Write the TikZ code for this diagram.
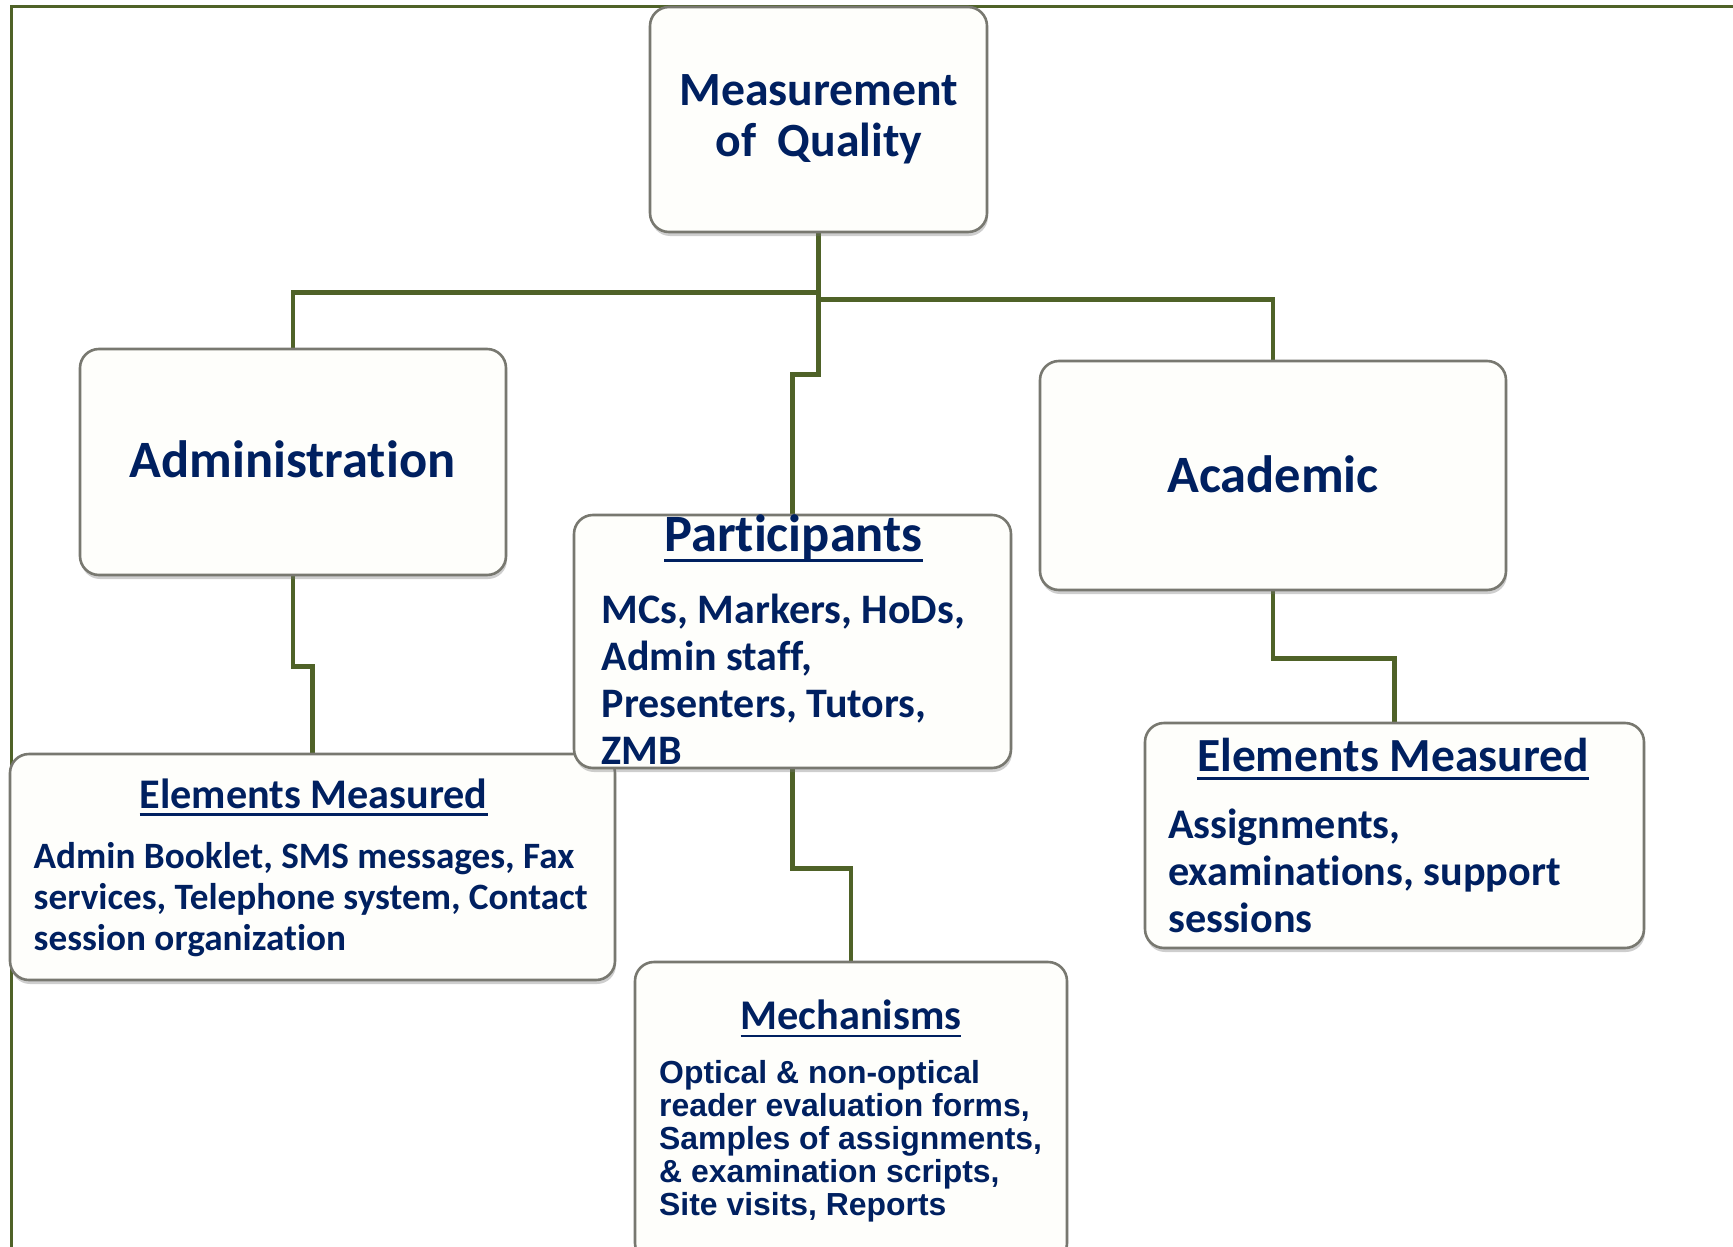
\documentclass[tikz,border=0pt]{standalone}
\usepackage{fontspec}
\setmainfont{Carlito}[Ligatures=NoCommon]
\newfontfamily\arialfont{Liberation Sans}[Ligatures=NoCommon]
\usetikzlibrary{shadows,backgrounds}

\definecolor{oliveline}{RGB}{79,98,40}
\definecolor{navytext}{RGB}{0,32,96}
\definecolor{boxline}{RGB}{120,120,112}
\definecolor{boxfill}{RGB}{254,254,251}

% one text line, centred on the anchor / flush left
\newcommand{\ctrln}[1]{\hbox to 0pt{\hss#1\hss}}
\newcommand{\leftln}[1]{\hbox{#1}}
\newcommand{\fsz}[2]{\fontsize{#1}{#2}\selectfont}
% underlined heading
\newcommand{\ulin}[1]{\setbox0=\hbox{#1}\rlap{\vrule height -0.13em depth 0.19em width \wd0}\box0}

\tikzset{
  card/.style={draw=boxline, line width=2.6pt, fill=boxfill,
    rounded corners=19pt, inner sep=0pt,
    drop shadow={shadow xshift=1pt, shadow yshift=-4pt, opacity=0.35, fill=black!55}},
  link/.style={draw=oliveline, line width=4.8pt},
  txt/.style={text=navytext, inner sep=0pt},
}

\begin{document}
\begin{tikzpicture}[x=1pt, y=-1pt]
\useasboundingbox (0,0) rectangle (1733,1247);
\clip (0,0) rectangle (1733,1247);

% boxes
\node[card, minimum width=337pt, minimum height=225pt] (moq)  at (818.5,119.5) {};
\node[card, minimum width=426pt, minimum height=226pt] (adm)  at (293,462) {};
\node[card, minimum width=466pt, minimum height=229pt] (acad) at (1273,475.5) {};
\node[card, minimum width=605pt, minimum height=226pt] (lem)  at (312.5,867) {};
\node[card, minimum width=437pt, minimum height=253pt] (part) at (792.5,641.5) {};
\node[card, minimum width=499pt, minimum height=225pt] (rem)  at (1394.5,835.5) {};
\node[card, minimum width=432pt, minimum height=300pt] (mech) at (851,1112) {};

% frame and connectors behind the boxes
\begin{scope}[on background layer]
  \draw[oliveline, line width=2.4pt] (11.5,6.5) rectangle (1790,1300);
  \draw[link] (moq.south) -- ++(0,59) -| (adm.north);
  \draw[link] (moq.south) ++(0,66) -| (acad.north);
  \draw[link] (moq.south) -- ++(0,141.5) -| (part.north);
  \draw[link] (adm.south) -- ++(0,90) -| (lem.north);
  \draw[link] (part.south) -- ++(0,99) -| (mech.north);
  \draw[link] (acad.south) -- ++(0,67) -| (rem.north);
\end{scope}

% texts
\node[txt, anchor=base, font=\bfseries\fsz{47.7}{51}] (moqt) at (819,106)
  {\vtop{\ctrln{Measurement}\ctrln{of\ \ Quality}}};
\node[txt, anchor=base, font=\bfseries\fsz{52.5}{60}] (admt) at (292.5,477) {Administration};
\node[txt, anchor=base, font=\bfseries\fsz{52.5}{60}] (acadt) at (1273,492) {Academic};

\node[txt, anchor=base, font=\bfseries\fsz{52.5}{60}] (partt) at (793.5,551.7) {\ulin{Participants}};
\node[txt, anchor=base west, font=\bfseries\fsz{42}{47}] (partb) at (601.7,623)
  {\vtop{\leftln{MCs, Markers, HoDs,}\leftln{Admin staff,}\leftln{Presenters, Tutors,}\leftln{ZMB}}};

\node[txt, anchor=base, font=\bfseries\fsz{42.2}{48}] (lemt) at (313.6,808) {\ulin{Elements Measured}};
\node[txt, anchor=base west, font=\bfseries\fsz{37.2}{41}] (lemb) at (33.5,868)
  {\vtop{\leftln{Admin Booklet, SMS messages, Fax}\leftln{services, Telephone system, Contact}\leftln{session organization}}};

\node[txt, anchor=base, font=\bfseries\fsz{47.5}{54}] (remt) at (1393,771) {\ulin{Elements Measured}};
\node[txt, anchor=base west, font=\bfseries\fsz{42.2}{47}] (remb) at (1168,838)
  {\vtop{\leftln{Assignments,}\leftln{examinations, support}\leftln{sessions}}};

\node[txt, anchor=base, font=\bfseries\fsz{42.3}{48}] (mecht) at (851,1029) {\ulin{Mechanisms}};
\node[txt, anchor=base west, font=\arialfont\bfseries\fsz{31.9}{33}] (mechb) at (659,1083.7)
  {\vtop{\leftln{Optical \& non-optical}\leftln{reader evaluation forms,}\leftln{Samples of assignments,}\leftln{\& examination scripts,}\leftln{Site visits, Reports}}};
\end{tikzpicture}
\end{document}
